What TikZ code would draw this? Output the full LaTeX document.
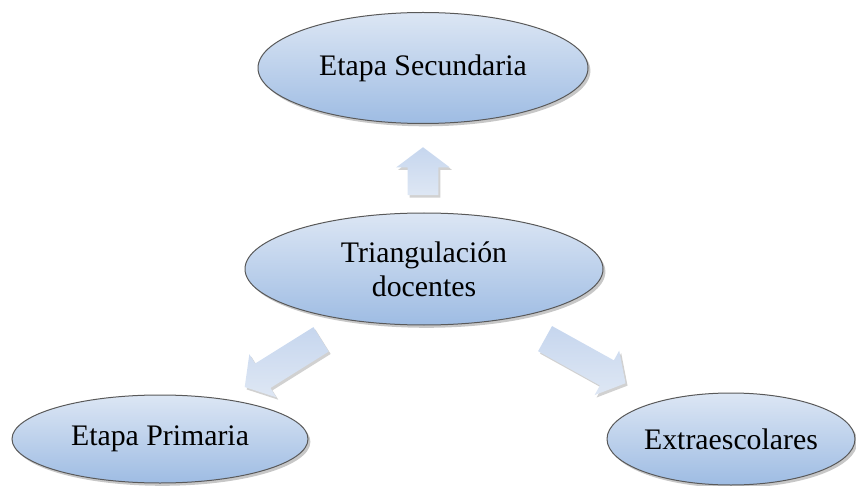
\documentclass[tikz,border=0pt]{standalone}
\usepackage{fontspec}
\setmainfont{Liberation Serif}
\usepackage{xcolor}
\usepackage{tikz}
\usetikzlibrary{shapes.geometric,shapes.arrows,shadows}
\definecolor{elltop}{HTML}{DCE6F4}
\definecolor{ellbot}{HTML}{9EBCE3}
\definecolor{arrtop}{HTML}{C6D6EE}
\definecolor{arrbot}{HTML}{DEE7F4}

\begin{document}
\begin{tikzpicture}[
  x=0.5pt,y=-0.5pt,
  elli/.style={ellipse,draw=black!65,line width=0.5pt,inner sep=0pt,align=center,
    top color=elltop,bottom color=ellbot,
    font=\fontsize{14.9}{17}\selectfont,
    drop shadow={shadow xshift=1.2pt,shadow yshift=-1.4pt,fill=black,opacity=.22}},
  blockarr/.style={single arrow,draw=none,inner sep=0pt,
    top color=arrtop,bottom color=arrbot,
    drop shadow={shadow xshift=1pt,shadow yshift=-1.2pt,fill=black,opacity=.18}}
]
\useasboundingbox (0,0) rectangle (856,486);
\node[elli,minimum width=165pt,minimum height=55.5pt] (sec) at (423,68) {Etapa Secundaria};
\node[elli,minimum width=179pt,minimum height=56pt] (tri) at (424,269) {Triangulación\\docentes};
\node[elli,minimum width=148pt,minimum height=44pt] (prim) at (160,439) {Etapa Primaria};
\node[elli,minimum width=124pt,minimum height=46pt] (extra) at (731,439) {Extraescolares};
% block arrows between the ellipses
\node[blockarr,rotate=90,inner ysep=7.5pt,minimum height=24pt,minimum width=26.5pt,
  single arrow head extend=5.75pt,single arrow tip angle=106] (arrsec) at (423,177) {};
\node[blockarr,rotate=212,inner ysep=7pt,minimum height=45pt,minimum width=25pt,
  single arrow head extend=5.5pt,single arrow tip angle=100] (arrprim) at (288,360) {};
\node[blockarr,rotate=331,inner ysep=7pt,minimum height=46pt,minimum width=25pt,
  single arrow head extend=5.5pt,single arrow tip angle=100] (arrextra) at (580,358) {};
\end{tikzpicture}
\end{document}
